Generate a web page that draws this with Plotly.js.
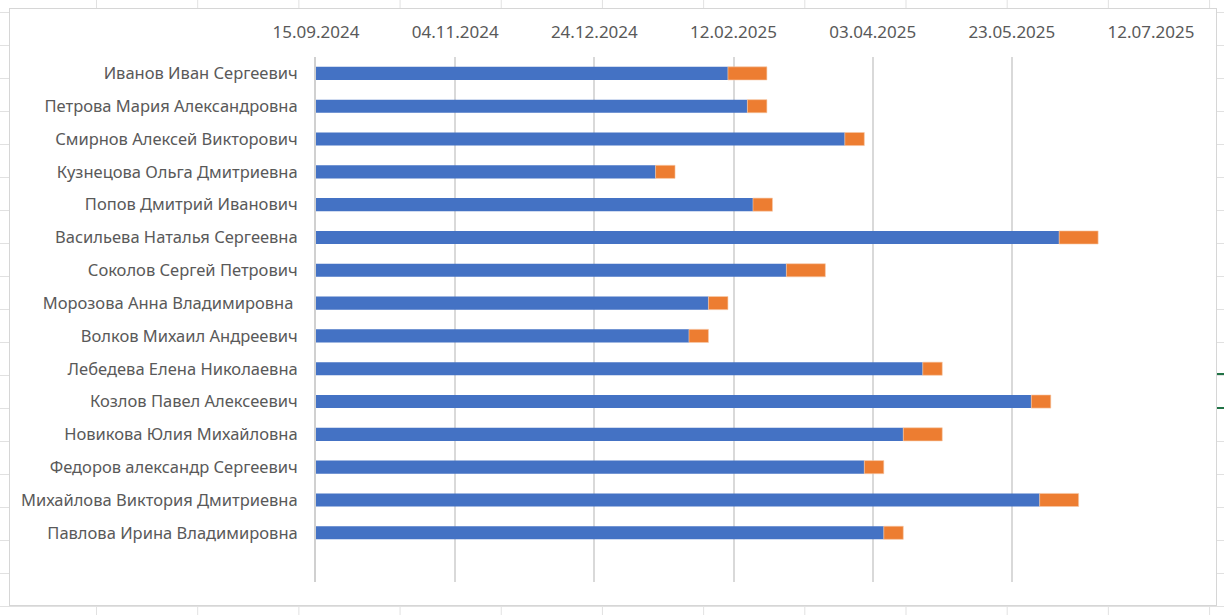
<!DOCTYPE html>
<html>
<head>
<meta charset="utf-8">
<script src="https://cdn.plot.ly/plotly-3.0.1.min.js"></script>
<style>
  html, body { margin: 0; padding: 0; }
  body {
    width: 1224px; height: 615px; overflow: hidden; position: relative;
    background-color: #ffffff;
    background-image:
      linear-gradient(to right, #e1e1e1 1px, transparent 1px),
      linear-gradient(to bottom, #e1e1e1 1px, transparent 1px);
    background-size: 101.2px 33px, 101.2px 33px;
    background-position: -5.2px 12px, -5.2px 12px;
  }
  #chart {
    position: absolute; left: 10px; top: 9px; width: 1206px; height: 596px;
    box-shadow: 0 0 0 1px #d6d6d6; background: #fff;
  }
  .sel { position: absolute; left: 1217px; width: 7px; height: 2px; background: #217346; }
</style>
</head>
<body>
<div id="chart"></div>
<div class="sel" style="top:373px"></div>
<div class="sel" style="top:407px"></div>
<script>
const names = [
  'Иванов Иван Сергеевич',
  'Петрова Мария Александровна',
  'Смирнов Алексей Викторович',
  'Кузнецова Ольга Дмитриевна',
  'Попов Дмитрий Иванович',
  'Васильева Наталья Сергеевна',
  'Соколов Сергей Петрович',
  'Морозова Анна Владимировна ',
  'Волков Михаил Андреевич',
  'Лебедева Елена Николаевна',
  'Козлов Павел Алексеевич',
  'Новикова Юлия Михайловна',
  'Федоров александр Сергеевич',
  'Михайлова Виктория Дмитриевна',
  'Павлова Ирина Владимировна'
];
const startDates = [
  '2025-02-10', '2025-02-17', '2025-03-24', '2025-01-15', '2025-02-19',
  '2025-06-09', '2025-03-03', '2025-02-03', '2025-01-27', '2025-04-21',
  '2025-05-30', '2025-04-14', '2025-03-31', '2025-06-02', '2025-04-07'
];
const durationDays = [14, 7, 7, 7, 7, 14, 14, 7, 7, 7, 7, 14, 7, 14, 7];
const axisStart = '2024-09-15';
const axisEnd = '2025-07-12';
const tickStepDays = 50;
// the source range holds one empty row after the last name
const categorySlots = 16;

const DAY = 86400000;
const toMs = s => Date.parse(s + 'T00:00:00Z');

const blue = {
  type: 'bar', orientation: 'h', y: names,
  base: names.map(() => axisStart),
  x: startDates.map(d => toMs(d) - toMs(axisStart)),
  marker: { color: '#4472C4' },
  hoverinfo: 'skip', showlegend: false
};
const orange = {
  type: 'bar', orientation: 'h', y: names,
  base: startDates,
  x: durationDays.map(d => d * DAY),
  marker: { color: '#ED7D31', line: { color: '#f7c9a8', width: 0.6 } },
  hoverinfo: 'skip', showlegend: false
};

const family = 'Noto Sans, Liberation Sans, sans-serif';

const layout = {
  width: 1206, height: 596,
  margin: { l: 306, r: 65, t: 48, b: 23, pad: 0 },
  paper_bgcolor: '#ffffff', plot_bgcolor: '#ffffff',
  barmode: 'overlay', bargap: 0.6,
  font: { family: family, size: 16, color: '#595959' },
  xaxis: {
    type: 'date', side: 'top',
    range: [axisStart, axisEnd],
    tick0: axisStart, dtick: tickStepDays * DAY,
    tickformat: '%d.%m.%Y',
    showgrid: true, gridcolor: '#d9d9d9', gridwidth: 2,
    zeroline: false, showline: false, ticks: '',
    ticklabelstandoff: 15,
    tickfont: { family: family, size: 17, color: '#595959' }, fixedrange: true
  },
  yaxis: {
    type: 'category',
    categoryorder: 'array', categoryarray: names,
    range: [categorySlots - 0.5, -0.5],
    showgrid: false, zeroline: false,
    showline: true, linecolor: '#d0d0d0', linewidth: 2,
    ticks: '', ticklabelstandoff: 13,
    tickfont: { family: family, size: 16.5, color: '#595959' }, fixedrange: true
  }
};

Plotly.newPlot('chart', [blue, orange], layout, { displayModeBar: false, staticPlot: true });
</script>
</body>
</html>
